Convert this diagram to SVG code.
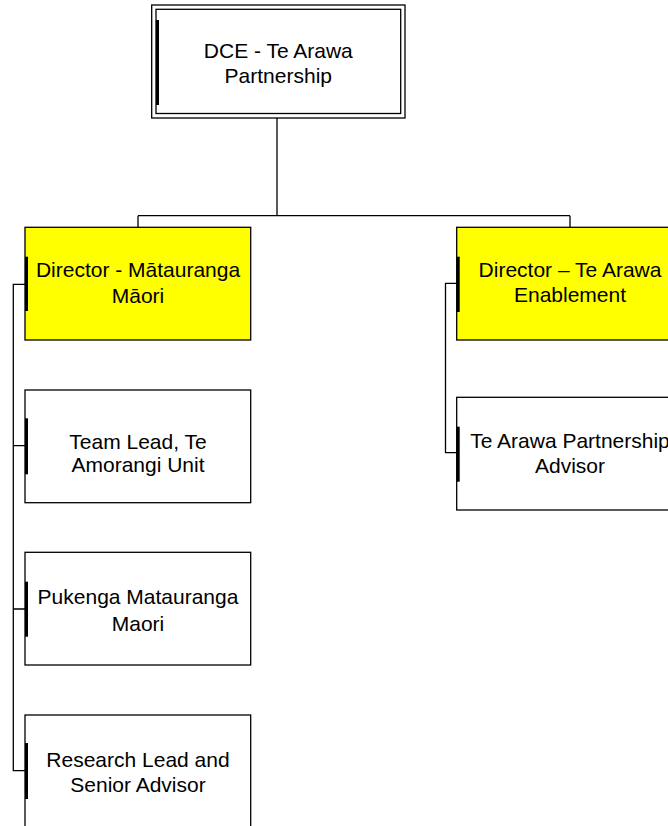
<svg xmlns="http://www.w3.org/2000/svg" width="668" height="826" viewBox="0 0 668 826">
<style>
.box{fill:#fff;stroke:#000;stroke-width:1.3}
.yel{fill:#ffff00;stroke:#000;stroke-width:1.3}
.bar{stroke:#000;stroke-width:3;fill:none}
.ln{stroke:#000;stroke-width:1.3;fill:none}
text{font-family:"Liberation Sans",Arial,sans-serif;font-size:21px;fill:#000;text-anchor:middle}
</style>
<rect width="668" height="826" fill="#fff"/>
<g id="connectors">
<path class="ln" d="M277 118V215.7M138 215.7H570M138 215.7V227.3M570 215.7V227.3"/>
<path class="ln" d="M25 284.3H13.3V770.7H25M13.3 445.7H25M13.3 609H25"/>
<path class="ln" d="M456.7 283.3H445.5V452.7H456.7"/>
</g>
<g id="dce">
<rect class="box" x="151.7" y="5" width="253.3" height="113"/>
<rect class="box" x="156" y="9.3" width="244.7" height="104.2"/>
<line class="bar" x1="157.5" y1="20" x2="157.5" y2="105"/>
<text x="278.3" y="58.3">DCE - Te Arawa</text>
<text x="278.3" y="83.3">Partnership</text>
</g>
<g id="dir-matauranga">
<rect class="yel" x="25" y="227.3" width="225.7" height="112.7"/>
<line class="bar" x1="26.5" y1="256.7" x2="26.5" y2="311"/>
<text x="138" y="277.3">Director - Mātauranga</text>
<text x="138" y="303.3">Māori</text>
</g>
<g id="dir-tearawa">
<rect class="yel" x="456.7" y="227.3" width="225.7" height="112.7"/>
<line class="bar" x1="458.2" y1="256.7" x2="458.2" y2="312"/>
<text x="570" y="277.3">Director – Te Arawa</text>
<text x="570" y="302.3">Enablement</text>
</g>
<g id="team-lead">
<rect class="box" x="25" y="390" width="225.7" height="112.7"/>
<line class="bar" x1="26.5" y1="418.3" x2="26.5" y2="474.3"/>
<text x="138" y="449">Team Lead, Te</text>
<text x="138" y="471.7">Amorangi Unit</text>
</g>
<g id="partnership-advisor">
<rect class="box" x="456.7" y="397.3" width="225.7" height="112.7"/>
<line class="bar" x1="458.2" y1="426.7" x2="458.2" y2="481.7"/>
<text x="570" y="448.3">Te Arawa Partnership</text>
<text x="570" y="473.3">Advisor</text>
</g>
<g id="pukenga">
<rect class="box" x="25" y="552.3" width="225.7" height="112.7"/>
<line class="bar" x1="26.5" y1="581.7" x2="26.5" y2="636.7"/>
<text x="138" y="604">Pukenga Matauranga</text>
<text x="138" y="630.7">Maori</text>
</g>
<g id="research-lead">
<rect class="box" x="25" y="715" width="225.7" height="112.7"/>
<line class="bar" x1="26.5" y1="743" x2="26.5" y2="799"/>
<text x="138" y="766.7">Research Lead and</text>
<text x="138" y="791.7">Senior Advisor</text>
</g>
</svg>
